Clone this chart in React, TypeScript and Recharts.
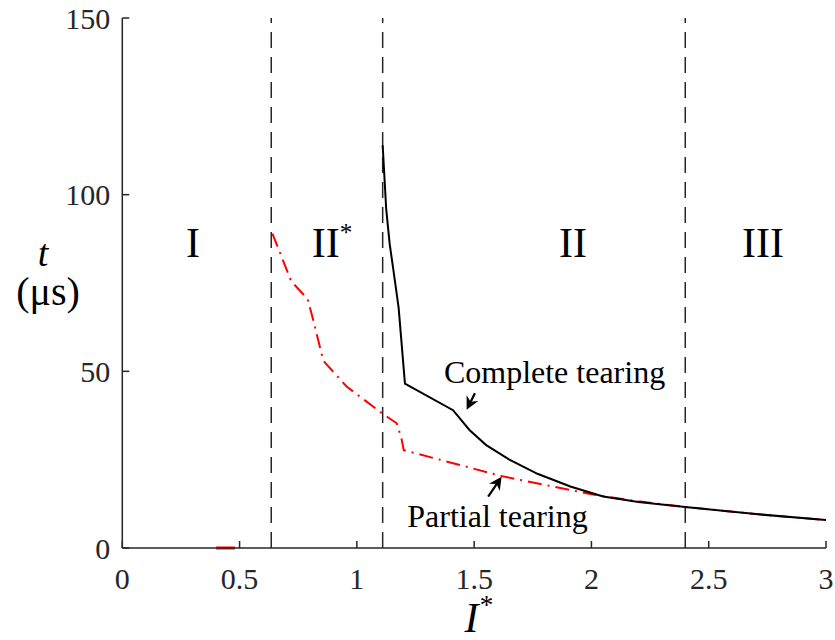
import React from "react";
import { LineChart, Line, XAxis, YAxis, ReferenceLine, ReferenceDot, Label } from "recharts";

// I* values and tearing time t (μs)
const completeI = [1.11, 1.125, 1.14, 1.155, 1.178, 1.205, 1.41, 1.48, 1.55, 1.65, 1.77, 1.91, 2.05, 2.2, 2.4, 2.7, 3.0];
const completeT = [114, 96, 86, 79, 68, 46.5, 39, 33.4, 29.2, 25, 21, 17.4, 14.6, 13, 11.6, 9.6, 7.9];

const partialI = [0.64, 0.72, 0.79, 0.814, 0.857, 0.956, 1.04, 1.11, 1.17, 1.19, 1.2, 1.41, 1.62, 1.91, 2.0, 2.2, 2.4, 2.7, 3.0];
const partialT = [89, 75.5, 70.5, 64.5, 53, 45.7, 41.5, 38, 35.3, 31, 27.7, 24, 20.3, 16.4, 15.2, 13.2, 11.6, 9.6, 7.9];

const zeroI = [0.4, 0.48];
const zeroT = [0, 0];

const boundaries = [0.635, 1.11, 2.4];

const xTicks = [0, 0.5, 1, 1.5, 2, 2.5, 3];
const yTicks = [0, 50, 100, 150];

const regionNames = ["I", "II", "II", "III"];
const regionSup = ["", "*", "", ""];
const regionI = [0.301, 0.894, 1.921, 2.731];
const regionT = 82.4;

const completeData = completeI.map((x, i) => ({ x, t: completeT[i] }));
const partialData = partialI.map((x, i) => ({ x, t: partialT[i] }));
const zeroData = zeroI.map((x, i) => ({ x, t: zeroT[i] }));

const serif =
  '"Times New Roman", Times, "Liberation Serif", Tinos, "Noto Serif", "DejaVu Serif", FreeSerif, serif';
const ink = "#262626";

function arrow(dx: number, dy: number) {
  // dx, dy: offset from head to tail in px
  return (props: any) => {
    const { cx, cy } = props;
    const len = Math.sqrt(dx * dx + dy * dy);
    const ux = -dx / len;
    const uy = -dy / len;
    const nx = -uy;
    const ny = ux;
    const bx = cx - 13 * ux;
    const by = cy - 13 * uy;
    const pts = [
      [cx, cy],
      [bx + 6.5 * nx, by + 6.5 * ny],
      [cx - 9 * ux, cy - 9 * uy],
      [bx - 6.5 * nx, by - 6.5 * ny],
    ]
      .map((p) => p.join(","))
      .join(" ");
    return (
      <g>
        <line x1={cx + dx} y1={cy + dy} x2={cx - 8 * ux} y2={cy - 8 * uy} stroke="#000" strokeWidth={2.2} />
        <polygon points={pts} fill="#000" />
      </g>
    );
  };
}

function textShape(text: string, size: number, anchor: string, sup?: string) {
  return (props: any) => (
    <text x={props.cx} y={props.cy} style={{ fontFamily: serif }} fontSize={size} textAnchor={anchor} fill="#000">
      {text}
      {sup ? (
        <tspan fontSize={size * 0.6} dy={-size * 0.38}>
          {sup}
        </tspan>
      ) : null}
    </text>
  );
}

const YLabel = (props: any) => {
  const { x, y, height } = props.viewBox;
  const cy = y + height / 2;
  return (
    <g style={{ fontFamily: serif }} fill="#000">
      <text x={x + 43} y={cy - 17} fontSize={38} fontStyle="italic" textAnchor="middle">
        t
      </text>
      <text x={x + 48} y={cy + 22} fontSize={40} textAnchor="middle">
        (μs)
      </text>
    </g>
  );
};

const XLabel = (props: any) => {
  const { x, y, width } = props.viewBox;
  return (
    <text
      x={x + width / 2 + 4}
      y={y + 84}
      style={{ fontFamily: serif }}
      fontSize={42}
      fontStyle="italic"
      textAnchor="middle"
      fill="#000"
    >
      I
      <tspan fontSize={27} dy={-18}>
        *
      </tspan>
    </text>
  );
};

export default function App() {
  return (
    <div style={{ position: "absolute", left: 0, top: 0, width: 835, height: 640, background: "#fff", fontFamily: serif }}>
      <LineChart width={835} height={640} margin={{ top: 18, right: 9, bottom: 0, left: 0 }}>
        <XAxis
          type="number"
          dataKey="x"
          domain={[0, 3]}
          ticks={xTicks}
          interval={0}
          height={92}
          tickSize={-7}
          tickMargin={27}
          axisLine={{ stroke: ink, strokeWidth: 1.5 }}
          tickLine={{ stroke: ink, strokeWidth: 1.5 }}
          tick={{ fill: ink, fontSize: 30, style: { fontFamily: serif } }}
        >
          <Label content={XLabel} />
        </XAxis>
        <YAxis
          type="number"
          dataKey="t"
          domain={[0, 150]}
          ticks={yTicks}
          interval={0}
          width={122.3}
          tickSize={-7}
          tickMargin={19}
          axisLine={{ stroke: ink, strokeWidth: 1.5 }}
          tickLine={{ stroke: ink, strokeWidth: 1.5 }}
          tick={{ fill: ink, fontSize: 30, style: { fontFamily: serif } }}
        >
          <Label content={YLabel} />
        </YAxis>
        {boundaries.map((b) => (
          <ReferenceLine key={b} x={b} stroke={ink} strokeWidth={1.5} strokeDasharray="16 9" />
        ))}
        <Line
          data={zeroData}
          dataKey="t"
          type="linear"
          stroke="#ff0000"
          strokeWidth={3}
          dot={false}
          activeDot={false}
          isAnimationActive={false}
        />
        <Line
          data={partialData}
          dataKey="t"
          type="linear"
          stroke="#ff0000"
          strokeWidth={2}
          strokeDasharray="14 6 2 6"
          dot={false}
          activeDot={false}
          isAnimationActive={false}
        />
        <Line
          data={completeData}
          dataKey="t"
          type="linear"
          stroke="#000"
          strokeWidth={2}
          dot={false}
          activeDot={false}
          isAnimationActive={false}
        />
        {regionNames.map((n, i) => (
          <ReferenceDot
            key={i}
            x={regionI[i]}
            y={regionT}
            r={0}
            shape={textShape(n, 42, "middle", regionSup[i])}
          />
        ))}
        <ReferenceDot x={1.371} y={46.7} r={0} shape={textShape("Complete tearing", 32, "start")} />
        <ReferenceDot x={1.215} y={6.03} r={0} shape={textShape("Partial tearing", 32, "start")} />
        <ReferenceDot x={1.468} y={39.1} r={0} shape={arrow(8.3, -16.7)} />
        <ReferenceDot x={1.617} y={20.2} r={0} shape={arrow(-13.4, 20)} />
      </LineChart>
    </div>
  );
}
